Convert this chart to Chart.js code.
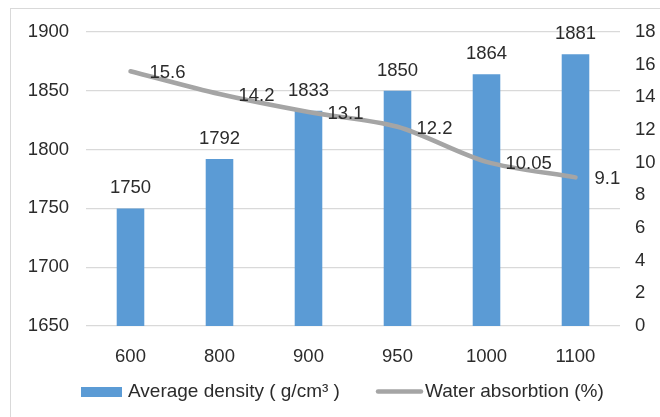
<!DOCTYPE html>
<html>
<head>
<meta charset="utf-8">
<script src="https://cdn.jsdelivr.net/npm/chart.js@4/dist/chart.umd.min.js"></script>
<style>
  html, body { margin: 0; padding: 0; background: #ffffff; }
  #wrap { width: 660px; height: 417px; position: relative; }
</style>
</head>
<body>
<div id="wrap"><canvas id="c"></canvas></div>
<script>
// Firing temperature categories
const temperatures = ['600', '800', '900', '950', '1000', '1100'];
// Average density (g/cm3) per temperature
const densityValues = [1750, 1792, 1833, 1850, 1864, 1881];
// Water absorption (%) per temperature
const absorptionValues = [15.6, 14.2, 13.1, 12.2, 10.05, 9.1];
// Axis tick settings
const densityTicks = { min: 1650, max: 1900, step: 50 };
const absorptionTicks = { min: 0, max: 18, step: 2 };
const seriesNames = ['Average density ( g/cm\u00B3 )', 'Water absorbtion (%)'];

const BLUE = '#5b9bd5';
const GREY = '#a5a5a5';
const TEXT = '#2b2b2b';
const FONT = 'Arial, "Liberation Sans", Helvetica, sans-serif';

// Outer frame of the chart
const framePlugin = {
  id: 'frame',
  beforeDraw(chart) {
    const ctx = chart.ctx;
    ctx.save();
    ctx.fillStyle = '#ffffff';
    ctx.fillRect(0, 0, chart.width, chart.height);
    ctx.strokeStyle = '#d9d9d9';
    ctx.lineWidth = 1;
    ctx.strokeRect(10.5, 8.5, chart.width + 20, chart.height + 20);
    ctx.restore();
  }
};

// Value labels: above the bars, to the right of the line points
const valueLabels = {
  id: 'valueLabels',
  afterDatasetsDraw(chart) {
    const ctx = chart.ctx;
    ctx.save();
    ctx.font = '18.5px ' + FONT;
    ctx.fillStyle = TEXT;
    ctx.textBaseline = 'middle';
    const barMeta = chart.getDatasetMeta(0);
    ctx.textAlign = 'center';
    barMeta.data.forEach((el, i) => {
      ctx.fillText(String(densityValues[i]), el.x, el.y - 20);
    });
    const lineMeta = chart.getDatasetMeta(1);
    ctx.textAlign = 'left';
    lineMeta.data.forEach((el, i) => {
      ctx.fillText(String(absorptionValues[i]), el.x + 19, el.y + 2);
    });
    ctx.restore();
  }
};

// Legend row under the axis
const legendRow = {
  id: 'legendRow',
  afterDraw(chart) {
    const ctx = chart.ctx;
    ctx.save();
    ctx.font = '19px ' + FONT;
    ctx.textBaseline = 'middle';
    ctx.textAlign = 'left';
    const y = 391.5;
    ctx.fillStyle = BLUE;
    ctx.fillRect(81, 387, 41, 10);
    ctx.fillStyle = TEXT;
    ctx.fillText(seriesNames[0], 128, y);
    ctx.strokeStyle = GREY;
    ctx.lineWidth = 4.5;
    ctx.lineCap = 'round';
    ctx.beginPath();
    ctx.moveTo(378, y);
    ctx.lineTo(421, y);
    ctx.stroke();
    ctx.fillText(seriesNames[1], 425, y);
    ctx.restore();
  }
};

const plainTick = (value) => String(value);

new Chart(document.getElementById('c'), {
  type: 'bar',
  data: {
    labels: temperatures,
    datasets: [
      {
        type: 'bar',
        label: seriesNames[0],
        data: densityValues,
        yAxisID: 'y',
        backgroundColor: BLUE,
        borderWidth: 0,
        categoryPercentage: 1,
        barPercentage: 0.31,
        order: 1
      },
      {
        type: 'line',
        label: seriesNames[1],
        data: absorptionValues,
        yAxisID: 'y1',
        borderColor: GREY,
        borderWidth: 4.5,
        borderCapStyle: 'round',
        pointRadius: 0,
        tension: 0.3,
        fill: false,
        order: 0
      }
    ]
  },
  options: {
    responsive: true,
    maintainAspectRatio: false,
    animation: false,
    layout: { padding: { top: 32, left: 0, right: 0, bottom: 0 } },
    plugins: {
      legend: { display: false },
      tooltip: { enabled: false }
    },
    scales: {
      x: {
        grid: { display: false },
        border: { display: false },
        ticks: { color: TEXT, font: { family: FONT, size: 18.5 }, padding: 12 },
        afterFit(scale) { scale.height = 91; }
      },
      y: {
        position: 'left',
        min: densityTicks.min,
        max: densityTicks.max,
        ticks: { stepSize: densityTicks.step, color: TEXT, font: { family: FONT, size: 18.5 }, padding: 17, callback: plainTick },
        grid: { color: '#d9d9d9', lineWidth: 1.3, drawTicks: false },
        border: { display: false },
        afterFit(scale) { scale.width = 86; }
      },
      y1: {
        position: 'right',
        min: absorptionTicks.min,
        max: absorptionTicks.max,
        ticks: { stepSize: absorptionTicks.step, color: TEXT, font: { family: FONT, size: 18.5 }, padding: 15, callback: plainTick },
        grid: { display: false, drawTicks: false },
        border: { display: false },
        afterFit(scale) { scale.width = 40; }
      }
    }
  },
  plugins: [framePlugin, valueLabels, legendRow]
});
</script>
</body>
</html>
